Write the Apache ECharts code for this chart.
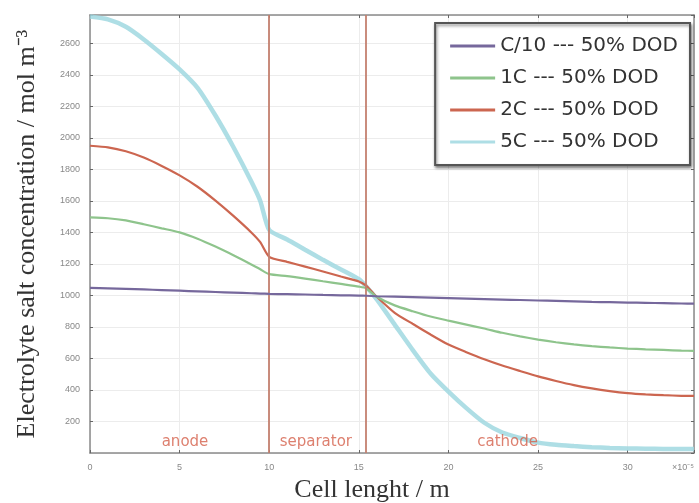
<!DOCTYPE html>
<html>
<head>
<meta charset="utf-8">
<script src="https://cdn.jsdelivr.net/npm/echarts@6/dist/echarts.min.js"></script>
<style>html,body{margin:0;padding:0;background:#fff}#c{width:699px;height:503px}</style>
</head>
<body>
<div id="c"></div>
<script>
// Cell length positions (×10^-5 m)
const cellX = [0,1,2,3,4,5,6,7,8,9,9.5,10,11,12,13,14,15,15.4,16,17,18,19,20,21,22,23,24,25,26,27,28,29,30,31,32,33,33.7];
const seriesNames = ['C/10 --- 50% DOD','1C --- 50% DOD','2C --- 50% DOD','5C --- 50% DOD'];
const cC10 = [1048,1045,1042,1038,1034,1030,1026,1022,1018,1014,1012,1010,1008,1006,1003,1001,999,998,995,992,989,986,983,980,977,974,971,968,965,962,959,957,955,953,951,949,948];
const c1C  = [1495,1490,1476,1452,1426,1400,1360,1310,1255,1197,1166,1135,1123,1107,1090,1073,1056,1046,992,937,900,866,840,815,790,763,740,720,703,689,678,670,663,658,654,650,648];
const c2C  = [1950,1940,1915,1875,1822,1762,1690,1602,1505,1400,1338,1245,1213,1183,1152,1120,1089,1062,992,890,820,752,688,640,595,555,520,486,457,431,410,393,380,372,367,363,362];
const c5C  = [2770,2752,2705,2625,2533,2435,2318,2142,1942,1723,1600,1415,1355,1290,1226,1165,1103,1058,975,815,655,505,390,285,192,130,95,66,52,44,37,32,29,27,26,25,25];
// region boundaries and region labels
const boundaries = [10, 15.4];
const regionNames = ['anode','separator','cathode'];
const regionX = [5.3, 12.6, 23.3];
const regionY = [70, 70, 70];
const xMax = 33.7, yMax = 2780;

const pair = ys => cellX.map((x,i)=>[x, ys[i]]);
const colors = ['#76689c','#8ec48c','#cc6650','rgba(160,216,225,0.85)'];
const widths = [2.2, 2.2, 2.2, 4.5];
const allY = [cC10, c1C, c2C, c5C];
const zs = [5,4,3,2];

const series = allY.map((ys,i)=>({
  name: seriesNames[i], type:'line', data: pair(ys), symbol:'none', smooth:0.2,
  lineStyle:{color:colors[i], width:widths[i]}, itemStyle:{color:colors[i]}, z: zs[i]
}));
series[0].markLine = {
  silent:true, symbol:['none','none'], label:{show:false},
  lineStyle:{color:'#c4806f', width:1.8, type:'solid'},
  data: boundaries.map(b=>({xAxis:b}))
};
series.push({
  name:'regions', type:'scatter', silent:true, z:6,
  data: regionNames.map((n,i)=>({name:n, value:[regionX[i], regionY[i]]})),
  symbol:'circle', symbolSize:1, itemStyle:{color:'rgba(0,0,0,0)'},
  label:{show:true, position:'inside', color:'#d5604b', fontSize:15, fontFamily:'DejaVu Sans', formatter: p=>p.name}
});

const chart = echarts.init(document.getElementById('c'), null, {renderer:'canvas'});
const axisLineStyle = {color:'#8a8a8a', width:1.5};
chart.setOption({
  animation:false,
  backgroundColor:'#fff',
  grid:{left:90, right:5, top:15, bottom:50, containLabel:false, outerBoundsMode:'none'},
  legend:{
    orient:'vertical', right:9, top:23,
    data: seriesNames, icon:'rect',
    itemWidth:45, itemHeight:3, itemGap:12,
    padding:[13,12,13,15],
    backgroundColor:'#fff', borderColor:'#555', borderWidth:2,
    shadowColor:'rgba(0,0,0,0.45)', shadowBlur:3, shadowOffsetX:1, shadowOffsetY:2,
    textStyle:{fontSize:20, lineHeight:20, color:'#333', fontFamily:'DejaVu Sans'}
  },
  xAxis:[{
    type:'value', min:0, max:xMax, interval:5,
    name:'Cell lenght / m', nameLocation:'middle', nameGap:24,
    nameTextStyle:{fontFamily:'Liberation Serif', fontSize:26, color:'#333', padding:[0,40,0,0]},
    axisLine:{show:true, onZero:false, lineStyle:axisLineStyle},
    axisTick:{show:true, inside:true, length:3, lineStyle:{color:'#666'}},
    axisLabel:{fontSize:9, color:'#888', margin:10, showMaxLabel:true, alignMaxLabel:'right',
      formatter:v=> (v===xMax ? '×10⁻⁵' : (v%5===0 ? String(v) : ''))},
    splitLine:{show:true, lineStyle:{color:'#ececec', width:1}}
  },{
    type:'value', min:0, max:xMax, interval:5, position:'top',
    axisLine:{show:true, onZero:false, lineStyle:axisLineStyle},
    axisTick:{show:true, inside:true, length:3, lineStyle:{color:'#666'}},
    axisLabel:{show:false}, splitLine:{show:false}
  }],
  yAxis:[{
    type:'value', min:0, max:yMax, interval:200,
    name:'Electrolyte salt concentration / mol m⁻³', nameLocation:'middle', nameGap:50,
    nameTextStyle:{fontFamily:'Liberation Serif', fontSize:26, color:'#333'},
    axisLine:{show:true, onZero:false, lineStyle:axisLineStyle},
    axisTick:{show:true, inside:true, length:3, lineStyle:{color:'#666'}},
    axisLabel:{fontSize:9, color:'#888', margin:10, showMinLabel:false,
      formatter:v=> (v%200===0 && v>0 ? String(v) : '')},
    splitLine:{show:true, lineStyle:{color:'#ececec', width:1}}
  },{
    type:'value', min:0, max:yMax, interval:200, position:'right',
    axisLine:{show:true, onZero:false, lineStyle:axisLineStyle},
    axisTick:{show:true, inside:true, length:3, lineStyle:{color:'#666'}},
    axisLabel:{show:false}, splitLine:{show:false}
  }],
  series: series
});
</script>
</body>
</html>
